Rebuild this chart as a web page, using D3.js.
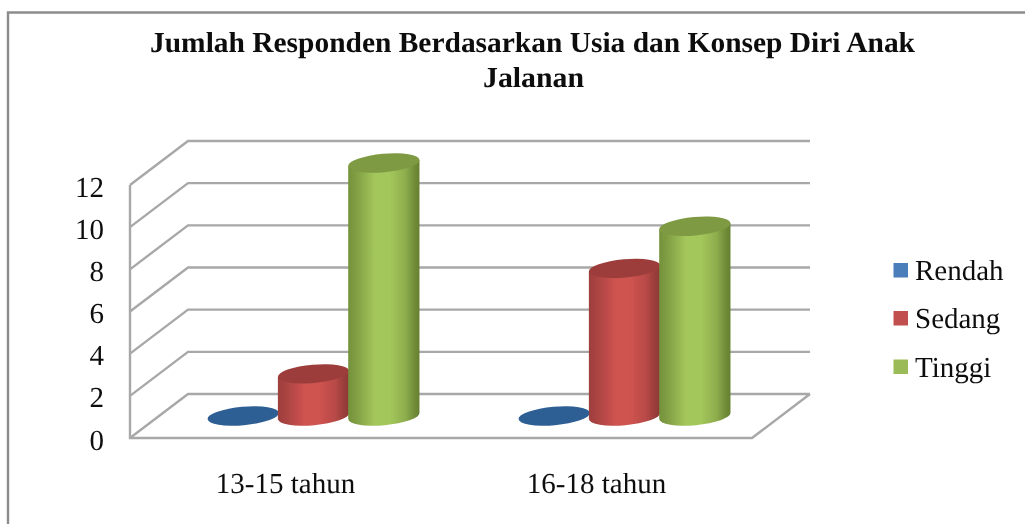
<!DOCTYPE html>
<html>
<head>
<meta charset="utf-8">
<script src="https://cdn.jsdelivr.net/npm/d3@7"></script>
<style>
html,body{margin:0;padding:0;background:#fff;overflow:hidden}
svg{display:block}
text{font-family:"Liberation Serif",serif;fill:#111;text-rendering:geometricPrecision}
</style>
</head>
<body>
<svg id="c" width="1025" height="524"></svg>
<script>
const categories = ["13-15 tahun", "16-18 tahun"];
const seriesNames = ["Rendah", "Sedang", "Tinggi"];
const rendah = [0, 0];
const sedang = [2, 7];
const tinggi = [12, 9];
const yTicks = [0, 2, 4, 6, 8, 10, 12];
const titleLines = ["Jumlah Responden Berdasarkan Usia dan Konsep Diri Anak", "Jalanan"];
const seriesValues = [rendah, sedang, tinggi];
const palette = [
  {mid:"#4A7EBB", edge:"#2A5482", top:"#2F5E94", key:"#4A7EBB"},
  {mid:"#CF5350", edge:"#8C3836", top:"#9C3E3B", key:"#C0504D"},
  {mid:"#A4C75C", edge:"#647F30", top:"#7E9A42", key:"#9BBB59"}
];

const svg = d3.select("#c");
const defs = svg.append("defs");
defs.append("filter").attr("id","soft").attr("x","-5%").attr("y","-5%").attr("width","110%").attr("height","110%")
  .append("feGaussianBlur").attr("stdDeviation",0.6);
palette.forEach((p,i)=>{
  const g = defs.append("linearGradient").attr("id","grad"+i);
  const mix = d3.interpolateRgb(p.mid,p.edge);
  [[0,mix(0.75)],[0.12,mix(0.55)],[0.38,p.mid],[0.58,p.mid],[0.8,mix(0.35)],[0.93,mix(0.8)],[1,p.edge]]
    .forEach(s=>g.append("stop").attr("offset",s[0]).attr("stop-color",s[1]));
});

const root = svg.append("g").attr("filter","url(#soft)");

// page frame
const frame = "#8c8c8c";
root.append("path").attr("d","M8,524 V12.5 H1025").attr("fill","none").attr("stroke",frame).attr("stroke-width",2.4);

// scales
const x0 = 130, x1 = 752, depthX = 58, depthY = -44;
const y = d3.scaleLinear().domain([0,12]).range([438,185]);
const xBand = d3.scaleBand().domain(categories).range([x0,x1]);
const xSeries = d3.scaleBand().domain(seriesNames).range([0,211]);

// gridlines
const gridColor = "#a8a8a8";
const grid = root.append("g").attr("fill","none").attr("stroke",gridColor).attr("stroke-width",2.4);
grid.selectAll("path.g").data(yTicks).join("path").attr("class","g")
  .attr("d",d=>`M${x0},${y(d)} L${x0+depthX},${y(d)+depthY} H${x1+depthX}`);
grid.append("path").attr("d",`M${x0},${y(12)} V${y(0)} H${x1} L${x1+depthX},${y(0)+depthY}`);

// y labels
root.append("g").selectAll("text").data(yTicks).join("text")
  .attr("x",104).attr("y",d=>y(d)+11.5).attr("text-anchor","end")
  .attr("font-size",29).text(d=>d);

// cylinders
const rx = xSeries.bandwidth()/2 + 0.6, ry = 9.2, tilt = -5;
const tiltRad = tilt*Math.PI/180;
const baseOff = depthY/2;
const cyl = root.append("g");
categories.forEach((c,ci)=>{
  seriesNames.forEach((s,si)=>{
    const v = seriesValues[si][ci];
    const cx = xBand(c) + depthX/2 + (xBand.bandwidth()-211)/2 + xSeries(s) + xSeries.bandwidth()/2 - 1;
    const yb = y(0)+baseOff, yt = y(v)+baseOff;
    const g = cyl.append("g");
    const dy = rx*Math.sin(tiltRad);
    if(v>0){
      const dx = rx*Math.cos(tiltRad);
      g.append("path")
        .attr("d",`M${cx-dx},${yt-dy} L${cx-dx},${yb-dy} A${rx},${ry} ${tilt} 0 0 ${cx+dx},${yb+dy} L${cx+dx},${yt+dy} Z`)
        .attr("fill",`url(#grad${si})`);
    }
    g.append("ellipse").attr("cx",cx).attr("cy",yt).attr("rx",rx).attr("ry",ry)
      .attr("transform",`rotate(${tilt} ${cx} ${yt})`).attr("fill",palette[si].top);
  });
});

// category labels
root.append("g").selectAll("text").data(categories).join("text")
  .attr("x",c=>xBand(c)+depthX/2+xBand.bandwidth()/2-29)
  .attr("y",493).attr("text-anchor","middle").attr("font-size",29).text(c=>c);

// legend
const legendY = d3.scaleOrdinal().domain(seriesNames).range([270,318,366.5]);
const leg = root.append("g").selectAll("g").data(seriesNames).join("g");
leg.append("rect").attr("x",893.5).attr("y",s=>legendY(s)-7).attr("width",14.5).attr("height",14.5)
  .attr("fill",(s,i)=>palette[i].key);
leg.append("text").attr("x",915).attr("y",s=>legendY(s)+10).attr("font-size",29).text(s=>s);

// title
root.append("g").selectAll("text").data(titleLines).join("text")
  .attr("x",(d,i)=>i?533.5:532.5).attr("y",(d,i)=>52+i*35)
  .attr("text-anchor","middle").attr("font-size",29).attr("font-weight","bold")
  .attr("textLength",(d,i)=>i?101:765).attr("lengthAdjust","spacingAndGlyphs").text(d=>d);
</script>
</body>
</html>
